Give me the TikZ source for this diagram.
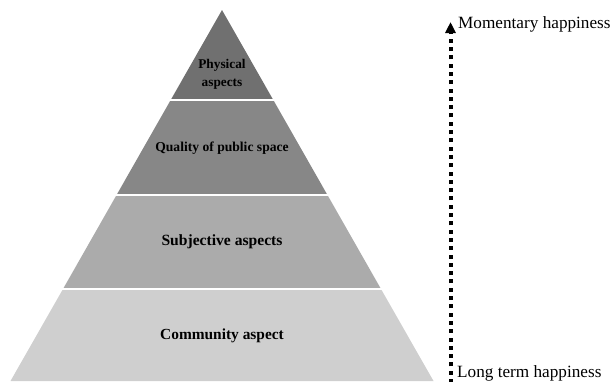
\documentclass[tikz,border=0pt]{standalone}
\usepackage{fontspec}
\setmainfont{Liberation Serif}
\usetikzlibrary{arrows.meta}
\begin{document}
\begin{tikzpicture}[x=1pt,y=-1pt,
  lbl/.style={font=\bfseries, text=black, align=center, inner sep=0pt},
  divider/.style={draw=white, line width=2pt},
  side/.style={font=\fontsize{17.2}{20}\selectfont, text=black, inner sep=0pt}]
\useasboundingbox (0,0) rectangle (612,381);
% layers
\fill[fill=black!56] (222,10) -- (273.3,100) -- (170.7,100) -- cycle;
\fill[fill=black!47] (170.7,100) -- (273.3,100) -- (327.45,195) -- (116.55,195) -- cycle;
\fill[fill=black!33] (116.55,195) -- (327.45,195) -- (381,289) -- (63,289) -- cycle;
\fill[fill=black!19] (63,289) -- (381,289) -- (433.5,381) -- (10.5,381) -- cycle;
\draw[divider] (169,100) -- (275,100);
\draw[divider] (114,195) -- (330,195);
\draw[divider] (60,289) -- (384,289);
% labels
\node[lbl, font=\bfseries\fontsize{13.3}{18}\selectfont] (phys) at (222,74) {Physical\\aspects};
\node[lbl, font=\bfseries\fontsize{13.6}{16}\selectfont] (qual) at (222,148) {Quality of public space};
\node[lbl, font=\bfseries\fontsize{15.6}{18}\selectfont] (subj) at (222,242) {Subjective aspects};
\node[lbl, font=\bfseries\fontsize{15.4}{18}\selectfont] (comm) at (222,336) {Community aspect};
% arrow
\coordinate (abot) at (450.5,383);
\coordinate (atop) at (450.5,22);
\draw[line width=4pt, dash pattern=on 4pt off 4.3pt,
  -{Triangle[width=10pt,length=11pt]}] (abot) -- (atop);
\node[side, anchor=base west] (mom) at (458,28) {Momentary happiness};
\node[side, anchor=base west] (long) at (457,377) {Long term happiness};
\end{tikzpicture}
\end{document}
